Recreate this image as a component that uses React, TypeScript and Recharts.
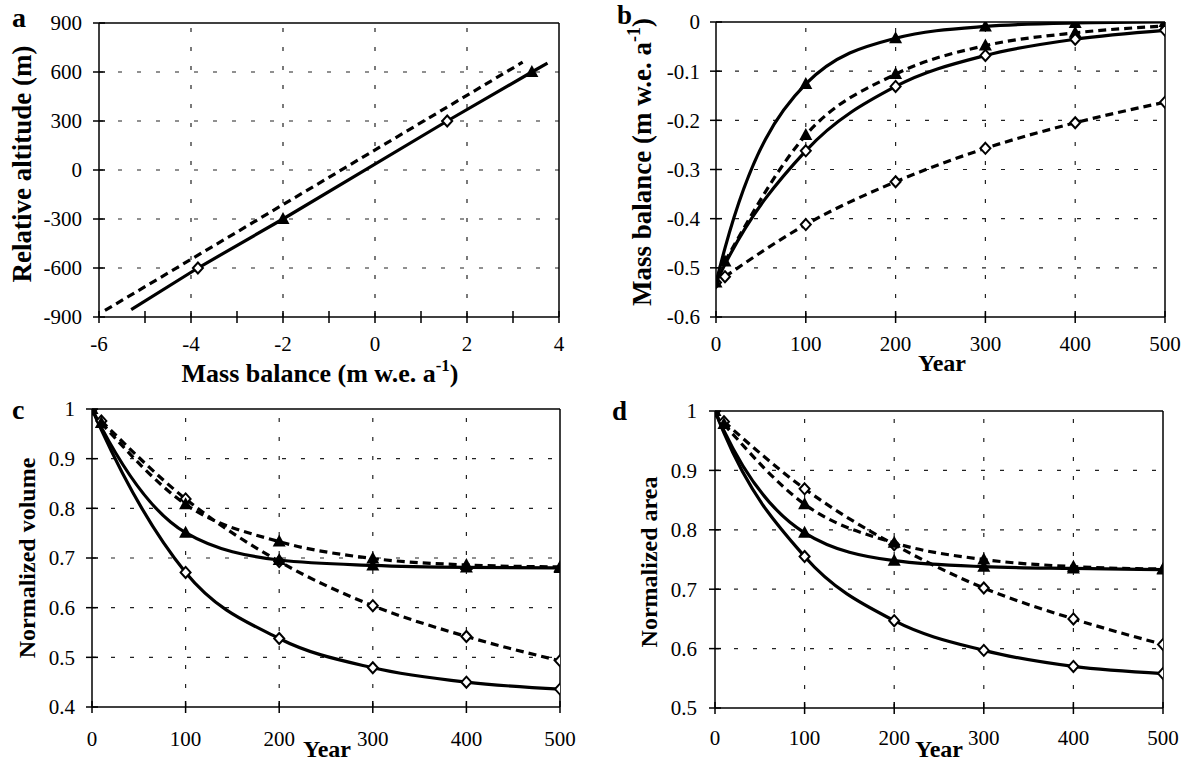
import React from 'react';
import { LineChart, Line, XAxis, YAxis, ReferenceLine } from 'recharts';

const SERIF = '"Liberation Serif", "Times New Roman", serif';

// panel a: relative altitude vs mass balance
const aSolidMB = [-5.3, -3.85, -2.0, 1.57, 3.41, 3.75];
const aSolidAlt = [-855, -600, -300, 300, 600, 655];
const aSolidMk = ['', 'dia', 'tri', 'dia', 'tri', ''];
const aDashMB = [-5.87, 3.21];
const aDashAlt = [-860, 660];
const aTicksX = [-6, -5, -4, -3, -2, -1, 0, 1, 2, 3, 4];
const aTicksY = [-900, -600, -300, 0, 300, 600, 900];
const aGridX = [-4, -2, 0, 2];
const aGridY = [-600, -300, 0, 300, 600];

// years
const yearsSolid = [0, 10, 100, 200, 300, 400, 500];
const yearsDash = [10, 100, 200, 300, 400, 500];
const solidMk = ['M', '', 'M', 'M', 'M', 'M', 'M'];
const dashMk = ['M', 'M', 'M', 'M', 'M', 'M'];
const yearTicks = [0, 100, 200, 300, 400, 500];
const yearGrid = [100, 200, 300, 400];

// panel b: mass balance vs year
const bSolidTri = [-0.53, -0.46, -0.126, -0.033, -0.009, -0.002, 0];
const bSolidDia = [-0.53, -0.493, -0.262, -0.131, -0.068, -0.035, -0.017];
const bDashTri = [-0.487, -0.23, -0.106, -0.048, -0.022, -0.008];
const bDashDia = [-0.518, -0.412, -0.325, -0.257, -0.205, -0.163];
const bTicksY = [-0.6, -0.5, -0.4, -0.3, -0.2, -0.1, 0];
const bGridY = [-0.5, -0.4, -0.3, -0.2, -0.1];

// panel c: normalized volume
const cSolidDia = [1, 0.958, 0.671, 0.538, 0.479, 0.45, 0.436];
const cSolidTri = [1, 0.963, 0.751, 0.696, 0.685, 0.681, 0.68];
const cDashDia = [0.976, 0.819, 0.693, 0.604, 0.542, 0.493];
const cDashTri = [0.972, 0.808, 0.733, 0.699, 0.686, 0.682];
const cTicksY = [0.4, 0.5, 0.6, 0.7, 0.8, 0.9, 1];
const cGridY = [0.5, 0.6, 0.7, 0.8, 0.9];

// panel d: normalized area
const dSolidDia = [1, 0.963, 0.755, 0.647, 0.597, 0.57, 0.558];
const dSolidTri = [1, 0.967, 0.795, 0.748, 0.738, 0.735, 0.733];
const dDashDia = [0.982, 0.869, 0.775, 0.702, 0.65, 0.607];
const dDashTri = [0.978, 0.843, 0.778, 0.75, 0.738, 0.734];
const dTicksY = [0.5, 0.6, 0.7, 0.8, 0.9, 1];
const dGridY = [0.6, 0.7, 0.8, 0.9];

type Pt = { x: number; y: number; mk: string };

const pts = (xs: number[], ys: number[], mks: string[], shape: string): Pt[] =>
  xs.map((x, i) => ({ x, y: ys[i], mk: mks[i] === 'M' ? shape : mks[i] }));

const marker = (props: any) => {
  const { cx, cy, payload, index } = props;
  const k = `mk-${index}`;
  if (cx == null || cy == null || !payload) return <g key={k} />;
  if (payload.mk === 'tri') {
    return <path key={k} d={`M${cx},${cy - 7} L${cx + 6.5},${cy + 5} L${cx - 6.5},${cy + 5} Z`} fill="#000" />;
  }
  if (payload.mk === 'dia') {
    return (
      <path
        key={k}
        d={`M${cx},${cy - 5.5} L${cx + 5},${cy} L${cx},${cy + 5.5} L${cx - 5},${cy} Z`}
        fill="#fff"
        stroke="#000"
        strokeWidth={2}
      />
    );
  }
  return <g key={k} />;
};

const TICK = 6;
const tickText = { fontSize: 21, fill: '#000', fontFamily: SERIF };

// tick label plus the inner half of the tick mark (the marks cross the axis)
const XTick = (props: any) => {
  const { x, y, payload, off, fmt } = props;
  const ax = y - off;
  return (
    <g>
      <line x1={x} x2={x} y1={ax} y2={ax - TICK} stroke="#000" strokeWidth={1.5} />
      <text x={x} y={y} dy="0.71em" textAnchor="middle" {...tickText}>
        {fmt ? fmt(payload.value) : String(payload.value)}
      </text>
    </g>
  );
};

const YTick = (props: any) => {
  const { x, y, payload, off } = props;
  const ax = x + off;
  return (
    <g>
      <line x1={ax} x2={ax + TICK} y1={y} y2={y} stroke="#000" strokeWidth={1.5} />
      <text x={x} y={y} dy="0.355em" textAnchor="end" {...tickText}>
        {String(payload.value)}
      </text>
    </g>
  );
};

interface Series {
  data: Pt[];
  dashed: boolean;
}

interface PanelProps {
  left: number;
  top: number;
  width: number;
  height: number;
  margin: { top: number; right: number; bottom: number; left: number };
  xDomain: [number, number];
  xTicks: number[];
  xFmt?: (v: number) => string;
  yDomain: [number, number];
  yTicks: number[];
  gridX: number[];
  gridY: number[];
  series: Series[];
  curve: 'linear' | 'monotone';
  xTickMargin: number;
  yTickMargin: number;
}

const Panel: React.FC<PanelProps> = (p) => (
  <div style={{ position: 'absolute', left: p.left, top: p.top }}>
    <LineChart width={p.width} height={p.height} margin={p.margin}>
      <XAxis
        dataKey="x"
        type="number"
        domain={p.xDomain}
        ticks={p.xTicks}
        interval={0}
        tick={<XTick off={TICK + p.xTickMargin} fmt={p.xFmt} />}
        tickSize={TICK}
        tickMargin={p.xTickMargin}
        height={30}
        axisLine={{ stroke: '#000', strokeWidth: 1.5 }}
        tickLine={{ stroke: '#000', strokeWidth: 1.5 }}
        allowDataOverflow
      />
      <YAxis
        dataKey="y"
        type="number"
        domain={p.yDomain}
        ticks={p.yTicks}
        interval={0}
        tick={<YTick off={TICK + p.yTickMargin} />}
        tickSize={TICK}
        tickMargin={p.yTickMargin}
        width={60}
        axisLine={{ stroke: '#000', strokeWidth: 1.5 }}
        tickLine={{ stroke: '#000', strokeWidth: 1.5 }}
        allowDataOverflow
      />
      {p.gridX.map((v) => (
        <ReferenceLine key={`gx${v}`} x={v} stroke="#222" strokeWidth={1.2} strokeDasharray="4 15" />
      ))}
      {p.gridY.map((v) => (
        <ReferenceLine key={`gy${v}`} y={v} stroke="#222" strokeWidth={1.2} strokeDasharray="4 15" />
      ))}
      <ReferenceLine y={p.yDomain[1]} stroke="#000" strokeWidth={1.5} />
      <ReferenceLine x={p.xDomain[1]} stroke="#000" strokeWidth={1.5} />
      {p.series.map((s, i) => (
        <Line
          key={i}
          data={s.data}
          dataKey="y"
          type={p.curve}
          stroke="#000"
          strokeWidth={3.2}
          strokeDasharray={s.dashed ? '8 5' : undefined}
          dot={marker}
          activeDot={false}
          isAnimationActive={false}
        />
      ))}
    </LineChart>
  </div>
);

const evenOnly = (v: number) => (v % 2 === 0 ? String(v) : '');

export default function App() {
  const aSeries: Series[] = [
    { data: pts(aDashMB, aDashAlt, ['', ''], ''), dashed: true },
    { data: pts(aSolidMB, aSolidAlt, aSolidMk, ''), dashed: false },
  ];
  const bSeries: Series[] = [
    { data: pts(yearsDash, bDashDia, dashMk, 'dia'), dashed: true },
    { data: pts(yearsDash, bDashTri, dashMk, 'tri'), dashed: true },
    { data: pts(yearsSolid, bSolidDia, solidMk, 'dia'), dashed: false },
    { data: pts(yearsSolid, bSolidTri, solidMk, 'tri'), dashed: false },
  ];
  const cSeries: Series[] = [
    { data: pts(yearsDash, cDashDia, dashMk, 'dia'), dashed: true },
    { data: pts(yearsDash, cDashTri, dashMk, 'tri'), dashed: true },
    { data: pts(yearsSolid, cSolidDia, solidMk, 'dia'), dashed: false },
    { data: pts(yearsSolid, cSolidTri, solidMk, 'tri'), dashed: false },
  ];
  const dSeries: Series[] = [
    { data: pts(yearsDash, dDashDia, dashMk, 'dia'), dashed: true },
    { data: pts(yearsDash, dDashTri, dashMk, 'tri'), dashed: true },
    { data: pts(yearsSolid, dSolidDia, solidMk, 'dia'), dashed: false },
    { data: pts(yearsSolid, dSolidTri, solidMk, 'tri'), dashed: false },
  ];

  const bold = { fontFamily: SERIF, fontWeight: 700, fill: '#000' } as const;

  return (
    <div style={{ position: 'absolute', left: 0, top: 0, width: 1185, height: 762, background: '#fff' }}>
      <Panel
        left={0}
        top={0}
        width={590}
        height={385}
        margin={{ top: 23, right: 31, bottom: 38, left: 39 }}
        xDomain={[-6, 4]}
        xTicks={aTicksX}
        xFmt={evenOnly}
        yDomain={[-900, 900]}
        yTicks={aTicksY}
        gridX={aGridX}
        gridY={aGridY}
        series={aSeries}
        curve="linear"
        xTickMargin={13}
        yTickMargin={11}
      />
      <Panel
        left={590}
        top={0}
        width={595}
        height={385}
        margin={{ top: 22, right: 20, bottom: 38, left: 66 }}
        xDomain={[0, 500]}
        xTicks={yearTicks}
        yDomain={[-0.6, 0]}
        yTicks={bTicksY}
        gridX={yearGrid}
        gridY={bGridY}
        series={bSeries}
        curve="monotone"
        xTickMargin={13}
        yTickMargin={10}
      />
      <Panel
        left={0}
        top={385}
        width={590}
        height={377}
        margin={{ top: 24, right: 30, bottom: 25, left: 32 }}
        xDomain={[0, 500]}
        xTicks={yearTicks}
        yDomain={[0.4, 1]}
        yTicks={cTicksY}
        gridX={yearGrid}
        gridY={cGridY}
        series={cSeries}
        curve="monotone"
        xTickMargin={18}
        yTickMargin={11}
      />
      <Panel
        left={590}
        top={385}
        width={595}
        height={377}
        margin={{ top: 26, right: 22, bottom: 24, left: 65 }}
        xDomain={[0, 500]}
        xTicks={yearTicks}
        yDomain={[0.5, 1]}
        yTicks={dTicksY}
        gridX={yearGrid}
        gridY={dGridY}
        series={dSeries}
        curve="monotone"
        xTickMargin={16}
        yTickMargin={12}
      />
      <svg width={1185} height={762} style={{ position: 'absolute', left: 0, top: 0, pointerEvents: 'none' }}>
        <text x={12} y={27} fontSize={28} {...bold}>a</text>
        <text x={617} y={24} fontSize={27} {...bold}>b</text>
        <text x={12} y={419} fontSize={28} {...bold}>c</text>
        <text x={612} y={420} fontSize={27} {...bold}>d</text>

        <text transform="translate(31,164) rotate(-90)" textAnchor="middle" fontSize={27} {...bold}>
          Relative altitude (m)
        </text>
        <text x={320} y={382} textAnchor="middle" fontSize={26} {...bold}>
          Mass balance (m w.e. a<tspan dy={-11} fontSize={17}>-1</tspan>
          <tspan dy={11}>)</tspan>
        </text>

        <text transform="translate(651,162) rotate(-90)" textAnchor="middle" fontSize={27} {...bold}>
          Mass balance (m w.e. a<tspan dy={-11} fontSize={18}>-1</tspan>
          <tspan dy={11}>)</tspan>
        </text>
        <text x={942} y={371} textAnchor="middle" fontSize={24} {...bold}>Year</text>

        <text transform="translate(35,558) rotate(-90)" textAnchor="middle" fontSize={24} {...bold}>
          Normalized volume
        </text>
        <text x={327} y={757} textAnchor="middle" fontSize={24} {...bold}>Year</text>

        <text transform="translate(657,562) rotate(-90)" textAnchor="middle" fontSize={24} {...bold}>
          Normalized area
        </text>
        <text x={939} y={757} textAnchor="middle" fontSize={24} {...bold}>Year</text>
      </svg>
    </div>
  );
}
